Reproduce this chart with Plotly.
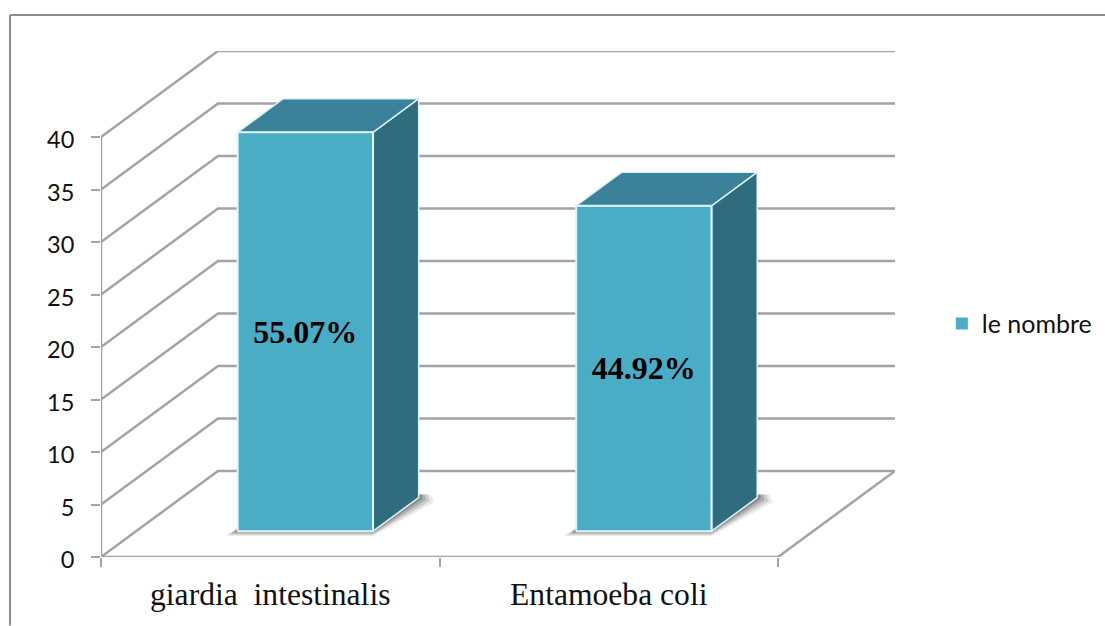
import plotly.graph_objects as go

# ---- data ----
categories = ["giardia  intestinalis", "Entamoeba coli"]
values = [38, 31]
percent_labels = ["55.07%", "44.92%"]
series_name = "le nombre"
y_ticks = [0, 5, 10, 15, 20, 25, 30, 35, 40]

# ---- pseudo-3D geometry, in axis units ----
DEPTH_X = 0.3456     # horizontal shift of the back wall (categories)
DEPTH_Y = 8.2        # vertical shift of the back wall (value units)
BAR_D0, BAR_D1 = 0.30, 0.69   # bar's front/back depth fractions
BAR_W = 0.40

W, H = 1105, 626
L, R, T, B = 101, 210, 51, 68.5
AXIS_X_MAX = len(categories) + DEPTH_X
AXIS_Y_MAX = y_ticks[-1] + DEPTH_Y

C_FRONT = "#4BACC6"
C_TOP = "#3A8199"
C_SIDE = "#2F6D7E"
C_EDGE = "#DDF3F7"
C_GRID = "#A3A3A3"
C_TEXT = "#111111"


def proj(x, y, d):
    return x + DEPTH_X * d, y + DEPTH_Y * d


def poly(points):
    xs = [p[0] for p in points] + [points[0][0]]
    ys = [p[1] for p in points] + [points[0][1]]
    return xs, ys


def path(points):
    return "M" + " L".join(f"{p[0]},{p[1]}" for p in points) + " Z"


shapes = []
line = dict(color=C_GRID, width=2.5)

# chart frame (open at right and bottom)
fx = (10 - L) / (W - L - R)
fy = 1 - (15 - T) / (H - T - B)
fy_bottom = 1 - (H - T) / (H - T - B)
fx_right = (W - L) / (W - L - R)
for (a, b, c, d) in [(fx, fy_bottom, fx, fy), (fx, fy, fx_right, fy)]:
    shapes.append(dict(type="line", xref="paper", yref="paper", x0=a, y0=b, x1=c, y1=d,
                       layer="below", line=dict(color="#8C8C8C", width=2)))

# walls and floor
for v in y_ticks:
    a, b = proj(0, v, 1)
    c, _ = proj(len(categories), v, 1)
    shapes.append(dict(type="path", xref="x", yref="y", layer="below", line=line,
                       path=f"M0,{v} L{a},{b} L{c},{b}"))
bx, by = proj(len(categories), 0, 1)
shapes.append(dict(type="path", xref="x", yref="y", layer="below", line=line,
                   path=f"M{bx},{by} L{len(categories)},0 L0,0"))
shapes.append(dict(type="line", xref="x", yref="y", layer="below", line=line,
                   x0=0, y0=0, x1=0, y1=y_ticks[-1]))

# soft base shadows
for i in range(len(categories)):
    xl, xr = i + 0.5 - BAR_W / 2, i + 0.5 + BAR_W / 2
    for grow, op in [(1.0, 0.10), (0.75, 0.16), (0.5, 0.22), (0.25, 0.30)]:
        pts = [
            proj(xl - grow * 0.036, -grow * 0.45, BAR_D0),
            proj(xr, -grow * 0.45, BAR_D0),
            proj(xr + grow * 0.045, -grow * 0.45, BAR_D1),
            proj(xr + grow * 0.036, 0.3, BAR_D1),
            proj(xr, 0.3, BAR_D1),
            proj(xl, 0.3, BAR_D0),
        ]
        shapes.append(dict(type="path", xref="x", yref="y", layer="below", path=path(pts),
                           fillcolor=f"rgba(60,60,60,{op})", line=dict(width=0)))

fig = go.Figure()

# front faces: real bars standing on the raised floor line
base_x, base_y = proj(0, 0, BAR_D0)
fig.add_trace(go.Bar(
    x=[i + 0.5 + base_x for i in range(len(categories))],
    y=values,
    base=[base_y] * len(values),
    width=BAR_W,
    name=series_name,
    marker=dict(color=C_FRONT, line=dict(width=0)),
    text=percent_labels,
    textposition="inside",
    insidetextanchor="middle",
    textangle=0,
    constraintext="none",
    textfont=dict(family="Liberation Serif", size=32, color="#000000", weight="bold"),
    showlegend=True,
))

# tops and sides of the bars, plus the light edge round each front face
for i, v in enumerate(values):
    xl, xr = i + 0.5 - BAR_W / 2, i + 0.5 + BAR_W / 2
    top_y = v
    sx, sy = poly([proj(xr, 0, BAR_D0), proj(xr, 0, BAR_D1),
                   proj(xr, top_y, BAR_D1), proj(xr, top_y, BAR_D0)])
    tx, ty = poly([proj(xl, top_y, BAR_D0), proj(xl, top_y, BAR_D1),
                   proj(xr, top_y, BAR_D1), proj(xr, top_y, BAR_D0)])
    for xs, ys, col in [(sx, sy, C_SIDE), (tx, ty, C_TOP)]:
        fig.add_trace(go.Scatter(x=xs, y=ys, mode="lines", fill="toself", fillcolor=col,
                                 line=dict(color=C_EDGE, width=1.5), hoverinfo="skip",
                                 showlegend=False, cliponaxis=False))
    fx_, fy_ = poly([proj(xl, 0, BAR_D0), proj(xr, 0, BAR_D0),
                     proj(xr, top_y, BAR_D0), proj(xl, top_y, BAR_D0)])
    fig.add_trace(go.Scatter(x=fx_, y=fy_, mode="lines", line=dict(color=C_EDGE, width=2),
                             hoverinfo="skip", showlegend=False, cliponaxis=False))

fig.update_layout(
    width=W, height=H,
    margin=dict(l=L, r=R, t=T, b=B, pad=0, autoexpand=False),
    paper_bgcolor="white", plot_bgcolor="white",
    shapes=shapes,
    showlegend=True,
    legend=dict(x=1.059, xanchor="left", y=0.461, yanchor="middle",
                font=dict(family="Lato", size=25, color=C_TEXT),
                bgcolor="rgba(0,0,0,0)"),
    xaxis=dict(range=[0, AXIS_X_MAX], showgrid=False, zeroline=False, showline=False,
               automargin=False,
               tickmode="array",
               tickvals=[i + 0.5 for i in range(len(categories))],
               ticktext=categories, ticks="", ticklabelstandoff=15,
               tickfont=dict(family="Liberation Serif", size=31.6, color="#111111"),
               minor=dict(tickmode="array", tickvals=list(range(len(categories) + 1)),
                          ticks="outside", ticklen=9, tickwidth=2, tickcolor=C_GRID)),
    yaxis=dict(range=[0, AXIS_Y_MAX], showgrid=False, zeroline=False, showline=False,
               automargin=False,
               tickmode="array", tickvals=y_ticks,
               ticks="outside", ticklen=9, tickwidth=2, tickcolor=C_GRID,
               ticklabelstandoff=12, ticklabelshift=3,
               tickfont=dict(family="Lato", size=23.5, color=C_TEXT)),
)

fig.write_html("out.html", config={"displayModeBar": False},
               post_script="document.body.style.margin='0';document.body.style.overflow='hidden';")
